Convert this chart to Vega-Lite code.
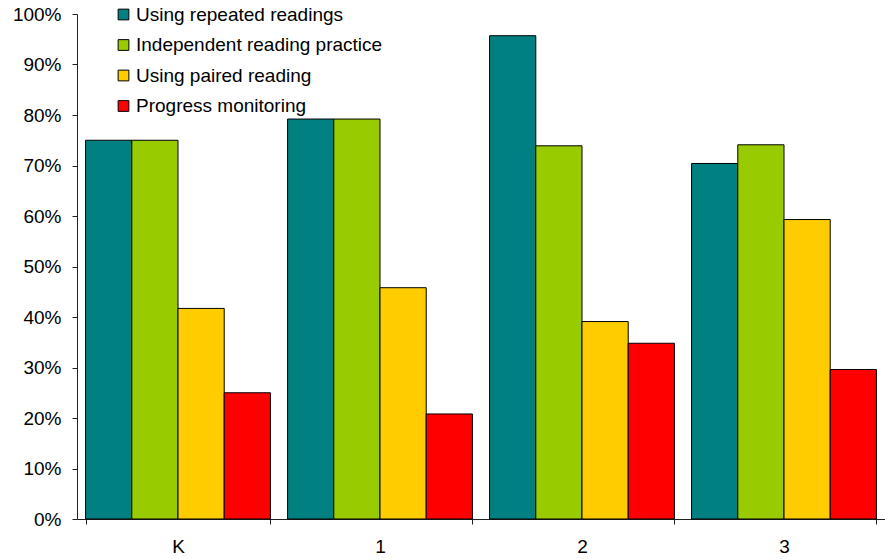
{
  "$schema": "https://vega.github.io/schema/vega-lite/v6.json",
  "autosize": {"type": "none"},
  "width": 808,
  "height": 505,
  "padding": {"left": 77, "top": 14, "right": 0, "bottom": 40},
  "config": {"view": {"stroke": null}, "font": "Liberation Sans"},
  "data": {
    "values": [
      {"grade": "K", "practice": "Using repeated readings", "value": 0.75},
      {"grade": "K", "practice": "Independent reading practice", "value": 0.75},
      {"grade": "K", "practice": "Using paired reading", "value": 0.417},
      {"grade": "K", "practice": "Progress monitoring", "value": 0.25},
      {"grade": "1", "practice": "Using repeated readings", "value": 0.792},
      {"grade": "1", "practice": "Independent reading practice", "value": 0.792},
      {"grade": "1", "practice": "Using paired reading", "value": 0.458},
      {"grade": "1", "practice": "Progress monitoring", "value": 0.208},
      {"grade": "2", "practice": "Using repeated readings", "value": 0.957},
      {"grade": "2", "practice": "Independent reading practice", "value": 0.739},
      {"grade": "2", "practice": "Using paired reading", "value": 0.391},
      {"grade": "2", "practice": "Progress monitoring", "value": 0.348},
      {"grade": "3", "practice": "Using repeated readings", "value": 0.704},
      {"grade": "3", "practice": "Independent reading practice", "value": 0.741},
      {"grade": "3", "practice": "Using paired reading", "value": 0.593},
      {"grade": "3", "practice": "Progress monitoring", "value": 0.296}
    ]
  },
  "mark": {"type": "bar", "stroke": "#000", "strokeWidth": 1},
  "encoding": {
    "x": {
      "field": "grade",
      "type": "nominal",
      "sort": ["K", "1", "2", "3"],
      "scale": {"paddingInner": 0.085, "paddingOuter": 0.0425},
      "axis": {
        "title": null,
        "labelAngle": 0,
        "tickBand": "extent",
        "domainColor": "#222",
        "tickColor": "#222",
        "tickSize": 5,
        "labelFontSize": 19,
        "labelColor": "#000",
        "labelPadding": 13
      }
    },
    "xOffset": {
      "field": "practice",
      "type": "nominal",
      "sort": ["Using repeated readings", "Independent reading practice", "Using paired reading", "Progress monitoring"],
      "scale": {"paddingInner": 0, "paddingOuter": 0}
    },
    "y": {
      "field": "value",
      "type": "quantitative",
      "scale": {"domain": [0, 1], "nice": false},
      "axis": {
        "title": null,
        "format": ".0%",
        "values": [0, 0.1, 0.2, 0.3, 0.4, 0.5, 0.6, 0.7, 0.8, 0.9, 1],
        "grid": false,
        "domainColor": "#222",
        "tickColor": "#222",
        "tickSize": 5,
        "labelFontSize": 19,
        "labelColor": "#000",
        "labelPadding": 11
      }
    },
    "color": {
      "field": "practice",
      "type": "nominal",
      "scale": {
        "domain": ["Using repeated readings", "Independent reading practice", "Using paired reading", "Progress monitoring"],
        "range": ["#008080", "#99CC00", "#FFCC00", "#FF0000"]
      },
      "legend": {
        "title": null,
        "orient": "none",
        "legendX": 37,
        "legendY": -9,
        "symbolType": "square",
        "symbolSize": 115,
        "symbolStrokeColor": "#000",
        "symbolStrokeWidth": 1,
        "symbolOpacity": 1,
        "labelFontSize": 19,
        "labelColor": "#000",
        "labelOffset": 3,
        "labelLimit": 0,
        "rowPadding": 10.5
      }
    }
  }
}
